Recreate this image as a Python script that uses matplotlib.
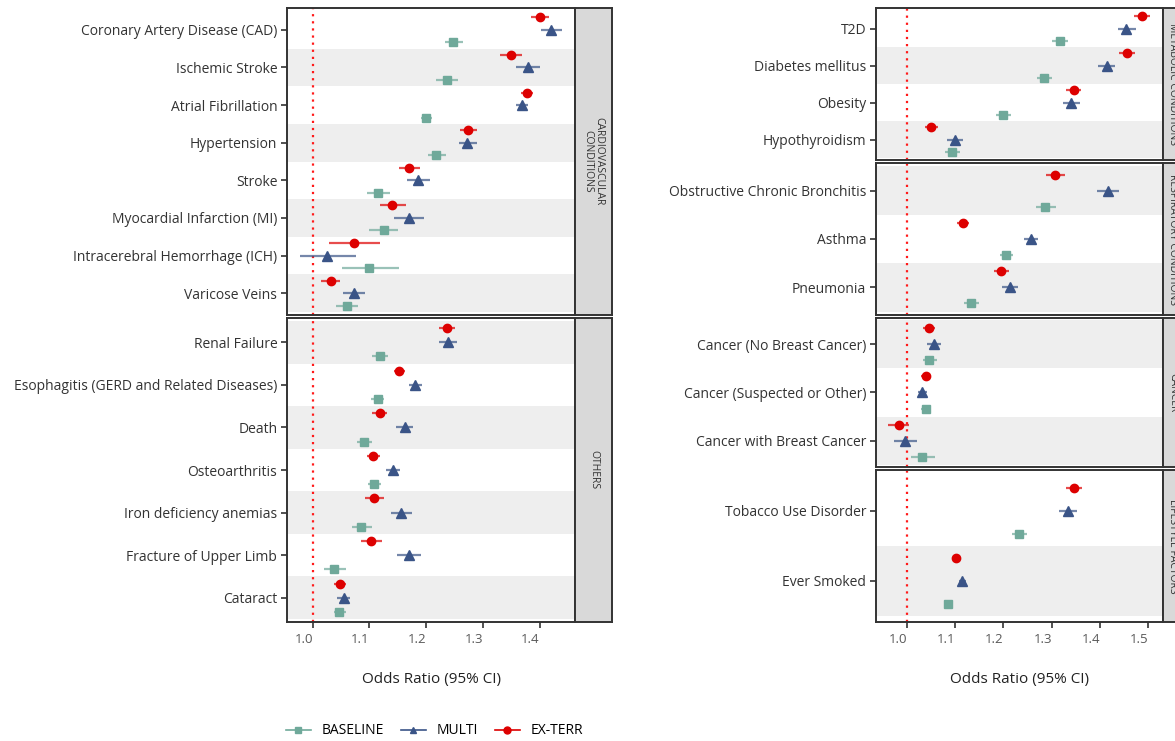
import matplotlib.pyplot as plt
from matplotlib.lines import Line2D
from matplotlib.transforms import ScaledTranslation
import numpy as np

plt.rcParams['font.family'] = ['Open Sans', 'DejaVu Sans']

# conditions listed top-to-bottom within each group
conditions = [
    'Coronary Artery Disease (CAD)', 'Ischemic Stroke', 'Atrial Fibrillation', 'Hypertension',
    'Stroke', 'Myocardial Infarction (MI)', 'Intracerebral Hemorrhage (ICH)', 'Varicose Veins',
    'Renal Failure', 'Esophagitis (GERD and Related Diseases)', 'Death', 'Osteoarthritis',
    'Iron deficiency anemias', 'Fracture of Upper Limb', 'Cataract',
    'T2D', 'Diabetes mellitus', 'Obesity', 'Hypothyroidism',
    'Obstructive Chronic Bronchitis', 'Asthma', 'Pneumonia',
    'Cancer (No Breast Cancer)', 'Cancer (Suspected or Other)', 'Cancer with Breast Cancer',
    'Tobacco Use Disorder', 'Ever Smoked',
]
groups = ['CARDIO'] * 8 + ['OTHERS'] * 7 + ['METABOLIC'] * 4 + ['RESPIRATORY'] * 3 + \
         ['CANCER'] * 3 + ['LIFESTYLE'] * 2

base_or = [1.248, 1.237, 1.200, 1.218, 1.116, 1.125, 1.100, 1.060,
           1.119, 1.115, 1.091, 1.109, 1.086, 1.038, 1.047,
           1.318, 1.285, 1.200, 1.094,
           1.287, 1.206, 1.134,
           1.047, 1.039, 1.032,
           1.233, 1.086]
base_lo = [1.233, 1.217, 1.191, 1.203, 1.096, 1.100, 1.051, 1.041,
           1.105, 1.103, 1.078, 1.098, 1.069, 1.020, 1.037,
           1.301, 1.270, 1.185, 1.079,
           1.267, 1.193, 1.119,
           1.033, 1.030, 1.008,
           1.217, 1.081]
base_hi = [1.265, 1.256, 1.210, 1.235, 1.136, 1.150, 1.152, 1.080,
           1.133, 1.126, 1.105, 1.121, 1.105, 1.058, 1.059,
           1.335, 1.301, 1.216, 1.111,
           1.309, 1.221, 1.150,
           1.063, 1.050, 1.058,
           1.250, 1.091]

multi_or = [1.420, 1.379, 1.369, 1.273, 1.186, 1.170, 1.025, 1.073,
            1.238, 1.180, 1.162, 1.141, 1.156, 1.170, 1.055,
            1.455, 1.415, 1.341, 1.099,
            1.416, 1.257, 1.213,
            1.056, 1.032, 0.997,
            1.333, 1.115]
multi_lo = [1.403, 1.359, 1.359, 1.258, 1.166, 1.144, 0.978, 1.053,
            1.223, 1.169, 1.147, 1.129, 1.138, 1.149, 1.043,
            1.437, 1.397, 1.324, 1.083,
            1.393, 1.243, 1.197,
            1.041, 1.023, 0.974,
            1.315, 1.109]
multi_hi = [1.439, 1.401, 1.380, 1.290, 1.207, 1.196, 1.076, 1.093,
            1.254, 1.192, 1.177, 1.154, 1.176, 1.191, 1.066,
            1.474, 1.432, 1.359, 1.117,
            1.440, 1.272, 1.230,
            1.071, 1.043, 1.022,
            1.352, 1.122]

exterr_or = [1.401, 1.349, 1.378, 1.274, 1.170, 1.140, 1.072, 1.032,
             1.236, 1.153, 1.118, 1.107, 1.109, 1.103, 1.048,
             1.487, 1.456, 1.346, 1.051,
             1.308, 1.116, 1.196,
             1.046, 1.039, 0.983,
             1.346, 1.103]
exterr_lo = [1.385, 1.330, 1.368, 1.260, 1.152, 1.119, 1.028, 1.015,
             1.222, 1.143, 1.105, 1.096, 1.093, 1.085, 1.038,
             1.471, 1.440, 1.330, 1.038,
             1.289, 1.105, 1.181,
             1.033, 1.030, 0.962,
             1.329, 1.098]
exterr_hi = [1.417, 1.369, 1.388, 1.289, 1.189, 1.164, 1.118, 1.049,
             1.251, 1.163, 1.131, 1.118, 1.126, 1.122, 1.058,
             1.504, 1.472, 1.361, 1.065,
             1.328, 1.128, 1.211,
             1.059, 1.048, 1.005,
             1.363, 1.108]

W, H = 1175, 741
fig = plt.figure(figsize=(W / 100, H / 100), dpi=100)


def box(x0, y0, x1, y1):
    # pixel box (top-left origin) -> figure fraction
    return [x0 / W, 1 - y1 / H, (x1 - x0) / W, (y1 - y0) / H]


left_x = (287, 575)
right_x = (876, 1163)
left_lim = (0.9547, 1.4626)
right_lim = (0.9364, 1.5307)

# key, strip text, x-extent, y-extent, padding px, xlim, ticks, bottom panel, strip width
panels = [
    ('CARDIO', 'CARDIOVASCULAR\nCONDITIONS', left_x, (8, 315), 3, left_lim,
     [1.0, 1.1, 1.2, 1.3, 1.4], False, 37),
    ('OTHERS', 'OTHERS', left_x, (318, 622), 3, left_lim,
     [1.0, 1.1, 1.2, 1.3, 1.4], True, 37),
    ('METABOLIC', 'METABOLIC CONDITIONS', right_x, (8, 160), 2, right_lim,
     [1.0, 1.1, 1.2, 1.3, 1.4, 1.5], False, 19),
    ('RESPIRATORY', 'RESPIRATORY CONDITIONS', right_x, (163, 315), 3.5, right_lim,
     [1.0, 1.1, 1.2, 1.3, 1.4, 1.5], False, 19),
    ('CANCER', 'CANCER', right_x, (318, 467), 2, right_lim,
     [1.0, 1.1, 1.2, 1.3, 1.4, 1.5], False, 19),
    ('LIFESTYLE', 'LIFESTYLE FACTORS', right_x, (470, 622), 6, right_lim,
     [1.0, 1.1, 1.2, 1.3, 1.4, 1.5], True, 19),
]

series = [
    ('BASELINE', base_or, base_lo, base_hi, '#6FA99A', 's', -1 / 3, 6.0),
    ('MULTI', multi_or, multi_lo, multi_hi, '#3A5487', '^', 0.0, 6.5),
    ('EX-TERR', exterr_or, exterr_lo, exterr_hi, '#DD0000', 'o', 1 / 3, 6.0),
]

edge = '#333333'
label_shift = ScaledTranslation(-9 / 100, 0, fig.dpi_scale_trans)

for key, strip, (x0, x1), (y0, y1), pad_px, xlim, ticks, bottom, sw in panels:
    ax = fig.add_axes(box(x0, y0, x1, y1))
    idx = [i for i, g in enumerate(groups) if g == key]
    n = len(idx)
    ypos = n - 1 - np.arange(n)
    band_px = (y1 - y0 - 2 * pad_px) / n
    pad = pad_px / band_px

    # alternating bands, starting grey at the bottom
    for y in ypos:
        if y % 2 == 0:
            ax.axhspan(y - 0.5, y + 0.5, color='#EEEEEE', lw=0, zorder=0)
    ax.axvline(1.0, color='#FF1A1A', ls=(0, (1, 2.2)), lw=1.6, zorder=1)

    for name, orv, lo, hi, col, mk, off, ms in series:
        o = np.array(orv)[idx]
        l = np.array(lo)[idx]
        h = np.array(hi)[idx]
        ax.hlines(ypos + off, l, h, color=col, lw=1.6, alpha=0.7, zorder=2)
        ax.plot(o, ypos + off, ls='none', marker=mk, ms=ms, color=col, zorder=3)

    ax.set_xlim(*xlim)
    ax.set_ylim(-0.5 - pad, n - 0.5 + pad)
    ax.set_yticks(ypos)
    ax.set_yticklabels([conditions[i] for i in idx])
    ax.set_xticks(ticks)
    ax.set_xticklabels([f'{t:.1f}' for t in ticks])
    ax.tick_params(axis='y', length=4, width=1.2, color=edge, labelsize=10,
                   labelcolor='#333333', pad=3)
    ax.tick_params(axis='x', length=4, width=1.2, color=edge, labelsize=9.5,
                   labelcolor='#595959', pad=4)
    if bottom:
        for lab in ax.get_xticklabels():
            lab.set_transform(lab.get_transform() + label_shift)
    else:
        ax.tick_params(axis='x', bottom=False, labelbottom=False)
    for s in ax.spines.values():
        s.set_color(edge)
        s.set_linewidth(1.4)

    # facet strip on the right
    sx = fig.add_axes(box(x1, y0, x1 + sw, y1))
    sx.set_facecolor('#D9D9D9')
    sx.set_xticks([])
    sx.set_yticks([])
    for s in sx.spines.values():
        s.set_color(edge)
        s.set_linewidth(1.4)
    sx.text(0.5, 0.5, strip, rotation=-90, ha='center', va='center',
            fontsize=7.5, color='#333333', transform=sx.transAxes, linespacing=1.0)

fig.text(431 / W, 1 - 680 / H, 'Odds Ratio (95% CI)', ha='center', va='center',
         fontsize=11, color='#222222')
fig.text(1019.5 / W, 1 - 680 / H, 'Odds Ratio (95% CI)', ha='center', va='center',
         fontsize=11, color='#222222')

handles = [Line2D([], [], color=c, marker=m, ms=5, lw=1.2) for _, _, _, _, c, m, _, _ in series]
fig.legend(handles, [s[0] for s in series], loc='center left',
           bbox_to_anchor=(273 / W, 1 - 731 / H), ncol=3, frameon=False,
           fontsize=10, handlelength=1.8, handletextpad=0.8, columnspacing=1.2)

fig.savefig('out.png', dpi=100)
